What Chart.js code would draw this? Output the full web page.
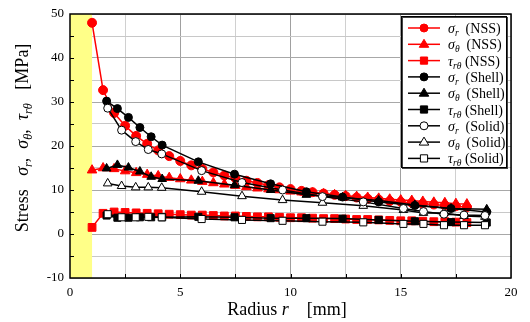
<!DOCTYPE html>
<html>
<head>
<meta charset="utf-8">
<script src="https://cdn.jsdelivr.net/npm/chart.js@4.4.1/dist/chart.umd.min.js"></script>
<style>
  html, body { margin: 0; padding: 0; background: #fff; }
  #wrap { width: 530px; height: 322px; }
</style>
</head>
<body>
<div id="wrap"><canvas id="stress"></canvas></div>
<script>
// NSS results (dense)
const radiusNSS = [1.0,1.5,2.0,2.5,3.0,3.5,4.0,4.5,5.0,5.5,6.0,6.5,7.0,7.5,8.0,8.5,9.0,9.5,10.0,10.5,11.0,11.5,12.0,12.5,13.0,13.5,14.0,14.5,15.0,15.5,16.0,16.5,17.0,17.5,18.0];
const nssSigmaR = [48.0,32.7,27.5,24.6,22.3,20.5,19.0,17.7,16.6,15.6,14.8,14.0,13.3,12.7,12.1,11.6,11.1,10.6,10.2,9.8,9.5,9.2,8.9,8.6,8.3,8.0,7.8,7.5,7.3,7.1,6.9,6.7,6.5,6.3,6.1];
const nssSigmaT = [14.5,15.0,14.8,14.3,13.9,13.5,13.2,12.8,12.5,12.2,11.9,11.6,11.3,11.0,10.7,10.4,10.2,10.0,9.7,9.5,9.3,9.1,8.9,8.7,8.5,8.3,8.1,7.9,7.7,7.6,7.4,7.2,7.1,6.9,6.8];
const nssTau = [1.5,4.7,5.0,4.9,4.8,4.7,4.6,4.5,4.4,4.3,4.3,4.2,4.1,4.1,4.0,3.9,3.9,3.8,3.7,3.7,3.6,3.5,3.5,3.4,3.3,3.3,3.2,3.1,3.0,3.0,2.9,2.8,2.8,2.7,2.6];

// Shell model
const radiusShell = [1.66,2.15,2.65,3.17,3.68,4.18,5.82,7.46,9.1,10.72,12.36,14.0,15.64,17.28,18.9];
const shellSigmaR = [30.2,28.5,26.5,24.2,22.1,20.2,16.4,13.6,11.4,9.6,8.4,7.3,6.5,5.8,5.0];
const shellSigmaT = [14.9,15.7,15.1,14.2,13.0,12.5,12.1,11.1,10.0,8.9,8.3,7.6,6.6,5.8,5.6];
const shellTau = [4.2,3.7,3.7,3.8,3.8,3.8,3.9,3.8,3.6,3.6,3.5,3.2,2.9,2.7,2.6];

// Solid model
const radiusSolid = [1.71,2.34,2.98,3.55,4.16,5.97,7.8,9.64,11.45,13.3,15.12,16.03,16.96,17.87,18.82];
const solidSigmaR = [28.6,23.6,21.0,19.2,18.2,14.4,11.7,10.0,8.5,7.3,5.8,5.1,4.5,4.3,4.2];
const solidSigmaT = [11.5,10.9,10.6,10.6,10.5,9.6,8.6,7.7,7.1,6.4,5.45,4.8,4.8,4.1,3.9];
const solidTau = [4.5,3.8,3.8,3.9,3.8,3.4,3.2,3.0,2.8,2.65,2.3,2.3,2.0,2.0,2.0];

const xTickLabels = [0, 5, 10, 15, 20];
const yTickLabels = [-10, 0, 10, 20, 30, 40, 50];
const holeEdge = 1.0;   // yellow zone 0..1 mm

const SERIF = '"Liberation Serif", "DejaVu Serif", serif';

function pts(xs, ys) {
  return xs.map((x, i) => ({ x: x, y: ys[i] }));
}

function ds(sym, sub, model, xs, ys, style, color, fill, radius, order) {
  return {
    label: sym + sub + ' ' + model,
    sym: sym, sub: sub, model: model,
    data: pts(xs, ys),
    borderColor: color,
    backgroundColor: fill,
    pointStyle: style,
    pointRadius: radius,
    pointBorderColor: color,
    pointBackgroundColor: fill,
    pointBorderWidth: 1,
    borderWidth: 1.5,
    tension: 0,
    order: order
  };
}

const datasets = [
  ds('σ', 'r', '(NSS)', radiusNSS, nssSigmaR, 'circle', '#ff0000', '#ff0000', 4.5, 3),
  ds('σ', 'θ', '(NSS)', radiusNSS, nssSigmaT, 'triangle', '#ff0000', '#ff0000', 5.5, 3),
  ds('τ', 'rθ', '(NSS)', radiusNSS, nssTau, 'rect', '#ff0000', '#ff0000', 5.5, 3),
  ds('σ', 'r', '(Shell)', radiusShell, shellSigmaR, 'circle', '#000000', '#000000', 4, 2),
  ds('σ', 'θ', '(Shell)', radiusShell, shellSigmaT, 'triangle', '#000000', '#000000', 5, 2),
  ds('τ', 'rθ', '(Shell)', radiusShell, shellTau, 'rect', '#000000', '#000000', 5, 2),
  ds('σ', 'r', '(Solid)', radiusSolid, solidSigmaR, 'circle', '#000000', '#ffffff', 4, 1),
  ds('σ', 'θ', '(Solid)', radiusSolid, solidSigmaT, 'triangle', '#000000', '#ffffff', 5, 1),
  ds('τ', 'rθ', '(Solid)', radiusSolid, solidTau, 'rect', '#000000', '#ffffff', 5, 1)
];

// draw text pieces: {t, it, sub}
function richWidth(ctx, parts, size) {
  let w = 0;
  parts.forEach(p => {
    const s = p.sub ? size * 0.68 : size;
    ctx.font = (p.it ? 'italic ' : '') + s + 'px ' + SERIF;
    w += ctx.measureText(p.t).width;
  });
  return w;
}
function drawRich(ctx, parts, x, y, size) {
  ctx.textBaseline = 'alphabetic';
  ctx.textAlign = 'left';
  parts.forEach(p => {
    const s = p.sub ? size * 0.68 : size;
    ctx.font = (p.it ? 'italic ' : '') + s + 'px ' + SERIF;
    ctx.fillText(p.t, x, p.sub ? y + size * 0.22 : y);
    x += ctx.measureText(p.t).width;
  });
}

function marker(ctx, style, x, y, r, stroke, fill) {
  ctx.save();
  ctx.fillStyle = fill;
  ctx.strokeStyle = stroke;
  ctx.lineWidth = 1;
  ctx.beginPath();
  if (style === 'circle') {
    ctx.arc(x, y, r, 0, Math.PI * 2);
  } else if (style === 'triangle') {
    ctx.moveTo(x, y - r);
    ctx.lineTo(x + r * 0.95, y + r * 0.6);
    ctx.lineTo(x - r * 0.95, y + r * 0.6);
    ctx.closePath();
  } else {
    const h = r * 0.72;
    ctx.rect(x - h, y - h, 2 * h, 2 * h);
  }
  ctx.fill();
  ctx.stroke();
  ctx.restore();
}

const decorPlugin = {
  id: 'decor',
  beforeDatasetsDraw(chart) {
    const { ctx, chartArea, scales } = chart;
    const x1 = scales.x.getPixelForValue(holeEdge);
    ctx.save();
    ctx.fillStyle = '#ffff88';
    ctx.fillRect(chartArea.left, chartArea.top, x1 - chartArea.left, chartArea.bottom - chartArea.top);
    ctx.restore();
  },
  afterDraw(chart) {
    const { ctx, chartArea, scales } = chart;
    const a = chartArea;
    ctx.save();
    // inner tick marks
    ctx.strokeStyle = '#000';
    ctx.lineWidth = 1;
    ctx.beginPath();
    for (let v = 2.5; v < 20; v += 2.5) {
      const px = Math.round(scales.x.getPixelForValue(v)) + 0.5;
      ctx.moveTo(px, a.bottom);
      ctx.lineTo(px, a.bottom - 4);
    }
    for (let v = -5; v < 50; v += 5) {
      const py = Math.round(scales.y.getPixelForValue(v)) + 0.5;
      ctx.moveTo(a.left, py);
      ctx.lineTo(a.left + 4, py);
    }
    ctx.stroke();
    // frame
    ctx.lineWidth = 1.5;
    ctx.strokeRect(a.left, a.top, a.right - a.left, a.bottom - a.top);

    // legend box
    const lx = 402, ly = 17, lw = 105, lh = 151;
    ctx.fillStyle = '#fff';
    ctx.fillRect(lx, ly, lw, lh);
    ctx.lineWidth = 1;
    ctx.strokeStyle = '#444';
    ctx.strokeRect(lx + 0.5, ly + 0.5, lw, lh);
    ctx.strokeStyle = '#000';
    ctx.strokeRect(lx - 0.5, ly - 0.5, lw, lh);
    chart.data.datasets.forEach((d, i) => {
      const cy = ly + 11 + i * 16.3;
      ctx.strokeStyle = d.borderColor;
      ctx.lineWidth = 1.5;
      ctx.beginPath();
      ctx.moveTo(lx + 6, cy);
      ctx.lineTo(lx + 38, cy);
      ctx.stroke();
      marker(ctx, d.pointStyle, lx + 22, cy, d.pointStyle === 'circle' ? 4 : 5, d.borderColor, d.backgroundColor);
      ctx.fillStyle = '#000';
      drawRich(ctx, [
        { t: d.sym, it: true },
        { t: d.sub, it: true, sub: true },
        { t: (d.sub === 'rθ' ? ' ' : '  ') + d.model }
      ], lx + 46, cy + 5, 14);
    });

    // y title (rotated)
    const yParts = [
      { t: 'Stress   ' },
      { t: 'σ', it: true }, { t: 'r', it: true, sub: true }, { t: ',  ' },
      { t: 'σ', it: true }, { t: 'θ', it: true, sub: true }, { t: ',  ' },
      { t: 'τ', it: true }, { t: 'rθ', it: true, sub: true },
      { t: '   [MPa]' }
    ];
    ctx.fillStyle = '#000';
    const yw = richWidth(ctx, yParts, 18);
    ctx.translate(28, 138);
    ctx.rotate(-Math.PI / 2);
    drawRich(ctx, yParts, -yw / 2, 0, 18);
    ctx.setTransform(1, 0, 0, 1, 0, 0);

    // x title
    const xParts = [{ t: 'Radius ' }, { t: 'r', it: true }, { t: '    [mm]' }];
    const xw = richWidth(ctx, xParts, 18);
    drawRich(ctx, xParts, 287 - xw / 2, 315, 18);
    ctx.restore();
  }
};

new Chart(document.getElementById('stress').getContext('2d'), {
  type: 'line',
  data: { datasets: datasets },
  options: {
    responsive: true,
    maintainAspectRatio: false,
    animation: false,
    layout: { padding: { top: 14, right: 19, left: 0, bottom: 0 } },
    plugins: { legend: { display: false }, tooltip: { enabled: false } },
    scales: {
      x: {
        type: 'linear',
        min: 0, max: 20,
        afterFit(s) { s.height = 44; },
        border: { display: false },
        grid: {
          drawTicks: false,
          lineWidth: 1,
          color: c => (c.tick.value % 5 === 0 ? '#a0a0a0' : '#d0d0d0')
        },
        ticks: {
          stepSize: 2.5,
          padding: 7,
          color: '#000',
          font: { family: SERIF, size: 13 },
          maxRotation: 0,
          autoSkip: false,
          callback: v => (xTickLabels.includes(v) ? String(v) : '')
        }
      },
      y: {
        min: -10, max: 50,
        afterFit(s) { s.width = 70; },
        border: { display: false },
        grid: {
          drawTicks: false,
          lineWidth: 1,
          color: c => (c.tick.value % 10 === 0 ? '#a8a8a8' : '#c8c8c8')
        },
        ticks: {
          stepSize: 5,
          padding: 6,
          color: '#000',
          font: { family: SERIF, size: 13 },
          autoSkip: false,
          callback: v => (yTickLabels.includes(v) ? String(v) : '')
        }
      }
    }
  },
  plugins: [decorPlugin]
});
</script>
</body>
</html>
